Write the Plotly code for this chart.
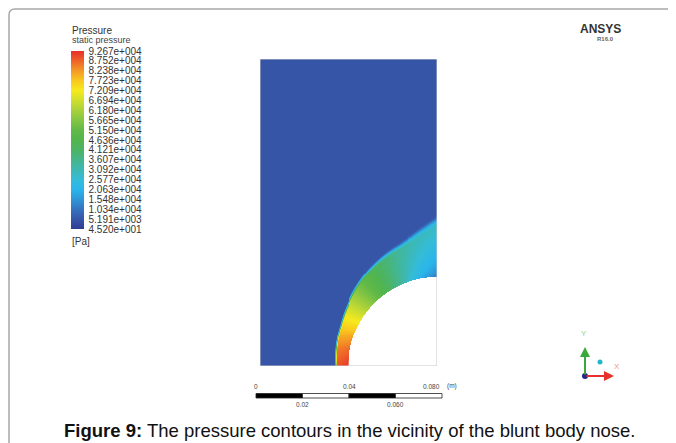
import numpy as np
import plotly.graph_objects as go

# page has an 8px body margin -> figure is drawn 8px in from the window corner
OFF = 8
W, H = 676 - OFF, 443 - OFF
FONT = "Liberation Sans, Arial, sans-serif"

# ---------------- data ----------------
legend_levels = [45.2, 5191, 10340, 15480, 20630, 25770, 30920, 36070, 41210,
                 46360, 51500, 56650, 61800, 66940, 72090, 77230, 82380, 87520, 92670]
legend_labels = ["4.520e+001", "5.191e+003", "1.034e+004", "1.548e+004", "2.063e+004",
                 "2.577e+004", "3.092e+004", "3.607e+004", "4.121e+004", "4.636e+004",
                 "5.150e+004", "5.665e+004", "6.180e+004", "6.694e+004", "7.209e+004",
                 "7.723e+004", "8.238e+004", "8.752e+004", "9.267e+004"]
legend_colors = ["#2e3c94", "#3656a8", "#3573c0", "#2f97d6", "#2ab5eb", "#34bcd8",
                 "#3db8b2", "#45b68a", "#4bb465", "#52b54c", "#62b947", "#84c543",
                 "#a8d13a", "#cfdf2e", "#f6ea1e", "#f9c81e", "#f49a24", "#ee6329", "#e7302a"]

# geometry (m)
body_radius = 0.0381
domain_width = 0.0762
domain_height = 0.132

# shock position, angle from stagnation line (deg) -> radius / body radius
shock_angle_deg = [0, 23, 34, 46, 58, 73, 79, 85, 90]
shock_radius_ratio = [1.141, 1.180, 1.219, 1.277, 1.339, 1.419, 1.473, 1.554, 1.638]
shock_thickness_m = [0.0012, 0.0012, 0.0014, 0.0017, 0.0022, 0.0030, 0.0036, 0.0043, 0.0048]

# pressure in the shock layer (Pa)
layer_angle_deg = [0, 10, 20, 30, 40, 50, 60, 70, 80, 90]
p_wall = [92600, 88000, 81000, 72000, 62000, 51000, 40000, 29000, 18000, 10000]
p_post_shock = [89000, 85000, 78000, 70000, 60000, 50000, 42000, 35000, 31000, 29000]
p_freestream = 5000

# scale bar (m)
scale_ticks = [0, 0.02, 0.04, 0.06, 0.08]
scale_top_labels = {0: "0", 0.04: "0.04", 0.08: "0.080"}
scale_bottom_labels = {0.02: "0.02", 0.06: "0.060"}

# ---------------- field ----------------
nx, ny = 180, 312
xs = (np.arange(nx) + 0.5) * domain_width / nx
ys = (np.arange(ny) + 0.5) * domain_height / ny
X, Y = np.meshgrid(xs, ys)
dxc = domain_width - X
r = np.hypot(dxc, Y)
th = np.degrees(np.arctan2(Y, dxc))
rs = np.interp(th, shock_angle_deg, shock_radius_ratio) * body_radius
wd = np.interp(th, shock_angle_deg, shock_thickness_m)
pw = np.interp(th, layer_angle_deg, p_wall)
ps = np.interp(th, layer_angle_deg, p_post_shock)
s = np.clip((r - body_radius) / (rs - body_radius), 0, 1)
p_layer = pw + (ps - pw) * s ** 0.6
t = np.clip((r - (rs - wd / 2)) / wd, 0, 1)
t = t * t * (3 - 2 * t)
P = p_layer * (1 - t) + p_freestream * t
P[r < body_radius] = np.nan

zmin, zmax = legend_levels[0], legend_levels[-1]
colorscale = [[(v - zmin) / (zmax - zmin), c] for v, c in zip(legend_levels, legend_colors)]


def px(x):
    return (x - OFF) / W


def py(y):
    return 1 - (y - OFF) / H


fig = go.Figure()
fig.add_trace(go.Heatmap(
    x=xs, y=ys, z=P, zmin=zmin, zmax=zmax, colorscale=colorscale, zsmooth=False,
    hoverinfo="skip",
    colorbar=dict(
        x=px(71), xanchor="left", xpad=0, y=py(140), yanchor="middle", ypad=0,
        lenmode="pixels", len=178, thickness=13, outlinewidth=0,
        tickmode="array", tickvals=legend_levels, ticktext=legend_labels,
        ticks="outside", ticklen=3, tickcolor="rgba(0,0,0,0)",
        tickfont=dict(family=FONT, size=10, color="#333333"),
    ),
))

# body (white)
ang = np.radians(np.linspace(0, 90, 91))
bx = list(domain_width - body_radius * np.cos(ang)) + [domain_width]
by = list(body_radius * np.sin(ang)) + [0]
fig.add_trace(go.Scatter(x=bx, y=by, fill="toself", fillcolor="white", mode="lines",
                         line=dict(width=0, color="white"), hoverinfo="skip", showlegend=False))

shapes = []
# domain outline
shapes.append(dict(type="rect", xref="x", yref="y", x0=0, x1=domain_width, y0=0, y1=domain_height,
                   line=dict(color="#c8c8c8", width=1), layer="above"))
# scale bar
for i in range(len(scale_ticks) - 1):
    shapes.append(dict(type="rect", xref="x2", yref="y2", x0=scale_ticks[i], x1=scale_ticks[i + 1],
                       y0=0, y1=1, fillcolor="black" if i % 2 == 0 else "white",
                       line=dict(color="#222222", width=0.8)))
# frame
fx, fy = px(9), py(9)
shapes.append(dict(type="path", xref="paper", yref="paper",
                   path=f"M {fx},-0.05 L {fx},{py(15)} Q {fx},{fy} {px(15)},{fy} L 1.05,{fy}",
                   line=dict(color="#a8a8a8", width=1.5)))
# triad dots
shapes.append(dict(type="circle", xref="paper", yref="paper", x0=px(582), x1=px(588), y0=py(379), y1=py(373),
                   fillcolor="#1f2a8a", line=dict(width=0)))
shapes.append(dict(type="circle", xref="paper", yref="paper", x0=px(597.5), x1=px(602.5), y0=py(364.5), y1=py(359.5),
                   fillcolor="#20b8c8", line=dict(width=0)))

annotations = []
annotations.append(dict(xref="paper", yref="paper", x=px(70), y=py(31), xanchor="left", yanchor="middle",
                        text="Pressure", showarrow=False, font=dict(family=FONT, size=10, color="#333333")))
annotations.append(dict(xref="paper", yref="paper", x=px(70), y=py(40.5), xanchor="left", yanchor="middle",
                        text="static pressure", showarrow=False, font=dict(family=FONT, size=9, color="#444444")))
annotations.append(dict(xref="paper", yref="paper", x=px(70), y=py(241), xanchor="left", yanchor="middle",
                        text="[Pa]", showarrow=False, font=dict(family=FONT, size=10, color="#333333")))
annotations.append(dict(xref="paper", yref="paper", x=px(600.7), y=py(28.5), xanchor="center", yanchor="middle",
                        text="<b>ANSYS</b>", showarrow=False, font=dict(family=FONT, size=12, color="#333333")))
annotations.append(dict(xref="paper", yref="paper", x=px(605.5), y=py(39), xanchor="center", yanchor="middle",
                        text="<b>R16.0</b>", showarrow=False, font=dict(family=FONT, size=6, color="#666666")))
# scale bar labels
for v, lab in scale_top_labels.items():
    annotations.append(dict(xref="x2", yref="y2", x=v, y=1.4, yanchor="bottom",
                            xanchor="right" if v == scale_ticks[-1] else "center",
                            text=lab, showarrow=False, font=dict(family=FONT, size=6.5, color="#444444")))
annotations.append(dict(xref="x2", yref="y2", x=scale_ticks[-1], y=1.4, yanchor="bottom", xanchor="left", xshift=3,
                        text="(m)", showarrow=False, font=dict(family=FONT, size=6.5, color="#444444")))
for v, lab in scale_bottom_labels.items():
    annotations.append(dict(xref="x2", yref="y2", x=v, y=-0.2, yanchor="top", xanchor="center",
                            text=lab, showarrow=False, font=dict(family=FONT, size=6.5, color="#444444")))
# triad arrows
annotations.append(dict(xref="paper", yref="paper", x=px(585), y=py(347), ax=0, ay=29, text="",
                        showarrow=True, arrowhead=2, arrowsize=1, arrowwidth=2, arrowcolor="#3aa83a"))
annotations.append(dict(xref="paper", yref="paper", x=px(614), y=py(376), ax=-29, ay=0, text="",
                        showarrow=True, arrowhead=2, arrowsize=1, arrowwidth=2, arrowcolor="#e8312a"))
annotations.append(dict(xref="paper", yref="paper", x=px(589), y=py(340), text="Y", showarrow=False,
                        font=dict(family=FONT, size=8, color="#8fd08f")))
annotations.append(dict(xref="paper", yref="paper", x=px(622), y=py(373), text="X", showarrow=False,
                        font=dict(family=FONT, size=8, color="#f09a9a")))
# caption
annotations.append(dict(xref="paper", yref="paper", x=px(349), y=py(430), xanchor="center", yanchor="middle",
                        text="<b>Figure 9:</b> The pressure contours in the vicinity of the blunt body nose.",
                        showarrow=False, font=dict(family=FONT, size=18.5, color="#111111")))

# scale-bar axis: 1 unit = bar height (4.5 px), range leaves room for the labels
bar_top, bar_h = 393.5, 4.5
fig.update_layout(
    width=W, height=H, margin=dict(l=0, r=0, t=0, b=0),
    paper_bgcolor="white", plot_bgcolor="rgba(0,0,0,0)", showlegend=False,
    xaxis=dict(domain=[px(260), px(437)], range=[0, domain_width], visible=False, fixedrange=True),
    yaxis=dict(domain=[py(366), py(59)], range=[0, domain_height], visible=False, fixedrange=True),
    xaxis2=dict(domain=[px(250), px(470)], range=[-6 / 2325, 0.08 + 28 / 2325], visible=False, anchor="y2"),
    yaxis2=dict(domain=[py(bar_top + bar_h * 4), py(bar_top - bar_h * 3)], range=[-3, 4],
                visible=False, anchor="x2"),
    shapes=shapes, annotations=annotations,
)
fig.write_html("out.html")
